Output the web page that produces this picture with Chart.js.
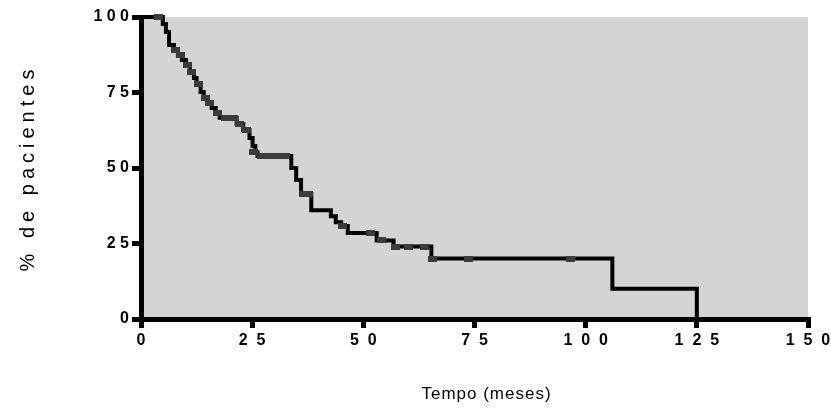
<!DOCTYPE html>
<html>
<head>
<meta charset="utf-8">
<script src="https://cdn.jsdelivr.net/npm/chart.js@4.4.1/dist/chart.umd.min.js"></script>
<style>
html, body { margin: 0; padding: 0; background: #fff; }
</style>
</head>
<body>
<canvas id="kmChart" width="831" height="412"></canvas>
<script>
// tempo (meses) em que a curva cai e % de pacientes depois da queda
const tempos = [0, 4.9, 5.6, 6.3, 7.4, 8.3, 9.2, 10.1, 11.0, 11.9, 12.5, 13.4, 14.1, 15.0, 15.9, 16.8, 17.7,
    21.5, 23.0, 24.4, 25.1, 25.7, 26.2, 33.8, 34.9, 36.0, 38.3, 42.7, 43.8, 45.0, 46.5, 53.0, 56.8, 65.3, 106.0, 125.0];
const sobrevida = [100, 97.7, 95.0, 90.7, 89.1, 87.4, 85.8, 84.1, 81.8, 79.8, 77.8, 75.2, 73.2, 71.5, 69.9, 68.2, 66.6,
    64.6, 62.6, 59.9, 57.3, 55.3, 54.0, 50.0, 46.0, 41.4, 36.0, 34.0, 32.0, 30.8, 28.5, 26.0, 24.0, 20.0, 10.0, 0];

// pacientes censurados (marcas)
const censuraTempos = [4.0, 7.8, 8.8, 10.5, 11.4, 13.0, 14.5, 15.4, 17.2, 19.0, 20.8, 22.2, 23.8, 25.4,
    27.2, 29.0, 30.8, 32.6, 36.6, 37.6, 45.4, 51.7, 54.0, 57.3, 60.2, 63.8, 65.5, 73.6, 96.6];
const censuraSobrevida = [100, 89.1, 87.4, 84.1, 81.8, 77.8, 73.2, 71.5, 68.2, 66.6, 66.6, 64.6, 62.6, 55.3,
    54.0, 54.0, 54.0, 54.0, 41.4, 41.4, 30.8, 28.5, 26.0, 24.0, 24.0, 24.0, 20.0, 20.0, 20.0];

const ticksX = [0, 25, 50, 75, 100, 125, 150];
const ticksY = [0, 25, 50, 75, 100];
const tituloX = 'Tempo (meses)';
const tituloY = '% de pacientes';

const fonte = 'Arial, "Liberation Sans", sans-serif';

// marca de censura: retangulo cinza escuro
const marca = document.createElement('canvas');
marca.width = 9;
marca.height = 6;
const mctx = marca.getContext('2d');
mctx.fillStyle = '#3c3c3c';
mctx.fillRect(0, 0, 9, 6);

const fundoCinza = {
    id: 'fundoCinza',
    beforeDraw(chart) {
        const { ctx, chartArea: a } = chart;
        ctx.save();
        ctx.fillStyle = '#d4d4d4';
        ctx.fillRect(a.left, a.top, a.right - a.left, a.bottom - a.top);
        ctx.restore();
    }
};

const titulosEixos = {
    id: 'titulosEixos',
    afterDraw(chart) {
        const { ctx, chartArea: a } = chart;
        ctx.save();
        ctx.fillStyle = '#000';
        ctx.textAlign = 'center';
        ctx.textBaseline = 'middle';
        ctx.font = '17px ' + fonte;
        ctx.letterSpacing = '1px';
        ctx.fillText(tituloX, (a.left + a.right) / 2 + 12, a.bottom + 75);
        ctx.translate(28, (a.top + a.bottom) / 2);
        ctx.rotate(-Math.PI / 2);
        ctx.font = '20px ' + fonte;
        ctx.letterSpacing = '5px';
        ctx.fillText(tituloY, 0, 0);
        ctx.restore();
    }
};

// sep: espaco entre os digitos dos rotulos
const eixo = (min, max, valores, sep) => ({
    type: 'linear',
    min: min,
    max: max,
    border: { display: true, color: '#000', width: 5 },
    grid: { drawOnChartArea: false, drawTicks: true, tickLength: 9, lineWidth: 5, color: '#000' },
    afterBuildTicks: scale => { scale.ticks = valores.map(v => ({ value: v })); },
    ticks: {
        color: '#000',
        font: { family: fonte, size: 16, weight: 'bold' },
        padding: 3,
        callback: v => String(v).split('').join(sep)
    }
});

const escalaX = eixo(0, 150, ticksX, '  ');
escalaX.afterFit = scale => {
    scale.height = 93;
    scale.paddingLeft = 0;
    scale.paddingRight = 0;
};
const escalaY = eixo(0, 100, ticksY, ' ');
escalaY.afterFit = scale => { scale.width = 141; };

const ctx = document.getElementById('kmChart').getContext('2d');
new Chart(ctx, {
    type: 'line',
    data: {
        datasets: [
            {
                type: 'scatter',
                label: 'Censurados',
                data: censuraTempos.map((t, i) => ({ x: t, y: censuraSobrevida[i] })),
                pointStyle: marca,
                order: 0,
                clip: 8
            },
            {
                label: 'Sobrevida',
                data: tempos.map((t, i) => ({ x: t, y: sobrevida[i] })),
                stepped: 'before',
                borderColor: '#000',
                borderWidth: 4,
                pointRadius: 0,
                fill: false,
                order: 1,
                clip: 8
            }
        ]
    },
    options: {
        responsive: false,
        animation: false,
        layout: { padding: { top: 17, right: 23, left: 0, bottom: 0 } },
        plugins: {
            legend: { display: false },
            tooltip: { enabled: false }
        },
        scales: {
            x: escalaX,
            y: escalaY
        }
    },
    plugins: [fundoCinza, titulosEixos]
});
</script>
</body>
</html>
